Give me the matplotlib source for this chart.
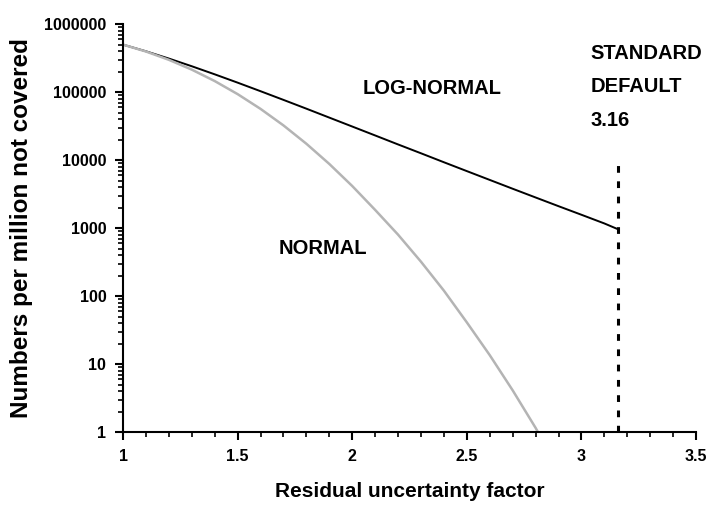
import matplotlib
matplotlib.use("Agg")
import matplotlib.pyplot as plt
import matplotlib.ticker as ticker

# residual uncertainty factor
x_vals = [1.0, 1.1, 1.2, 1.3, 1.4, 1.5, 1.6, 1.7, 1.8, 1.9, 2.0, 2.1, 2.2,
          2.3, 2.4, 2.5, 2.6, 2.7, 2.8, 2.9, 3.0, 3.1, 3.16]
# numbers per million not covered
lognormal_vals = [500000, 399000, 312000, 240400, 182900, 137900, 103200,
                  76900, 57100, 42200, 31200, 23050, 17000, 12600, 9300,
                  6890, 5110, 3790, 2820, 2100, 1570, 1170, 960]

x_norm = [1.0, 1.1, 1.2, 1.3, 1.4, 1.5, 1.6, 1.7, 1.8, 1.9, 2.0, 2.1, 2.2,
          2.3, 2.4, 2.5, 2.6, 2.7, 2.8, 2.81]
normal_vals = [500000, 396000, 298800, 214300, 145600, 93500, 56700, 32400,
               17400, 8780, 4160, 1850, 800, 320, 120, 41, 13.5, 4.1, 1.15, 1.0]

default_x = 3.16
default_top = 9500

font = {'family': 'Liberation Sans', 'weight': 'bold'}

fig = plt.figure(figsize=(7.11, 5.14), dpi=100)
ax = fig.add_axes([0.173, 0.1595, 0.806, 0.7935])

ax.plot(x_vals, lognormal_vals, color='black', linewidth=1.4)
ax.plot(x_norm, normal_vals, color='#b4b4b4', linewidth=1.8)
ax.plot([default_x, default_x], [1, default_top], color='black',
        linewidth=2.2, linestyle=(0, (2.2, 2.8)))

ax.set_yscale('log')
ax.set_xlim(1, 3.5)
ax.set_ylim(1, 1000000)

ax.xaxis.set_major_locator(ticker.MultipleLocator(0.5))
ax.xaxis.set_minor_locator(ticker.MultipleLocator(0.1))
ax.xaxis.set_major_formatter(ticker.FuncFormatter(lambda v, p: '%g' % v))
ax.yaxis.set_major_locator(ticker.LogLocator(base=10, numticks=10))
ax.yaxis.set_minor_locator(ticker.LogLocator(base=10, subs=range(2, 10), numticks=20))
ax.yaxis.set_major_formatter(ticker.FuncFormatter(lambda v, p: '%d' % v))
ax.yaxis.set_minor_formatter(ticker.NullFormatter())

for s in ['top', 'right']:
    ax.spines[s].set_visible(False)
for s in ['left', 'bottom']:
    ax.spines[s].set_linewidth(1.5)

ax.tick_params(which='major', length=6, width=1.5, labelsize=11.5, pad=6)
ax.tick_params(which='minor', length=3.5, width=1.2)
for lab in ax.get_xticklabels() + ax.get_yticklabels():
    lab.set_family('Liberation Sans')
    lab.set_fontweight('bold')

ax.set_xlabel('Residual uncertainty factor', fontsize=15, fontdict=font, labelpad=13)
ax.set_ylabel('Numbers per million not covered', fontsize=17.5, fontdict=font, labelpad=8)

ax.text(2.35, 115000, 'LOG-NORMAL', fontsize=14.5, fontdict=font, ha='center', va='center')
ax.text(1.87, 500, 'NORMAL', fontsize=14.5, fontdict=font, ha='center', va='center')
ax.text(3.04, 120000, 'STANDARD\nDEFAULT\n3.16', fontsize=14.5, fontdict=font,
        ha='left', va='center', linespacing=1.95)

fig.savefig('out.png', dpi=100)
